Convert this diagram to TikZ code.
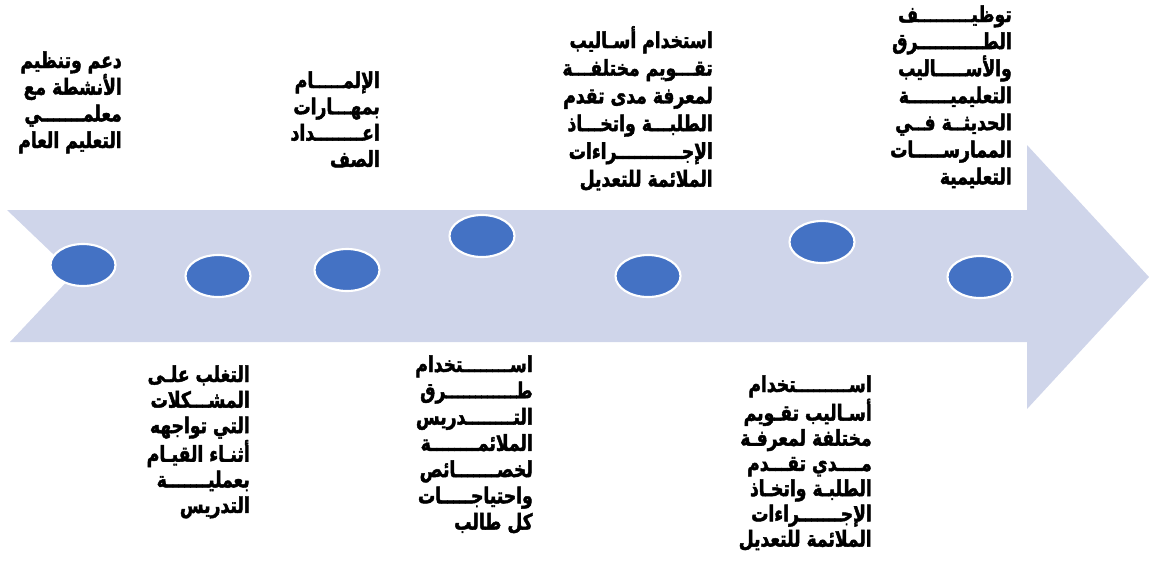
\documentclass[tikz,border=0pt]{standalone}
\usepackage{fontspec}
\usetikzlibrary{shapes.geometric}
\TeXXeTstate=1
\newfontfamily\arabicfont[Script=Arabic,FakeStretch=0.78,FakeBold=2]{DejaVu Sans Bold}
\definecolor{band}{HTML}{CFD5EA}
\definecolor{dot}{HTML}{4472C4}
% right-aligned block of lines; the optional argument is the line pitch
\newcommand\arblock[2][20pt]{\vtop{\arabicfont\fontsize{16.5}{20}\selectfont
  \baselineskip=#1\halign{\hfill##\cr#2\crcr}}}
\tikzset{
  stage/.style={ellipse, fill=dot, draw=white, line width=1.6pt,
    minimum width=65*0.75pt, minimum height=42*0.75pt, inner sep=0pt},
  label/.style={anchor=base east, inner sep=0pt, text=black}
}
\begin{document}
\begin{tikzpicture}[x=0.75pt,y=-0.75pt]
\useasboundingbox (0,0) rectangle (1149,562);
% the notched arrow carrying the timeline
\fill[band] (7,210) -- (1027,210) -- (1027,145) -- (1149,277) -- (1027,409)
  -- (1027,342) -- (10,342) -- (74,274) -- cycle;
% stages
\node[stage] (e1) at (83,265) {};
\node[stage] (e2) at (218,276) {};
\node[stage] (e3) at (347,270) {};
\node[stage] (e4) at (482,236) {};
\node[stage] (e5) at (648,276) {};
\node[stage] (e6) at (822,242) {};
\node[stage] (e7) at (980,277) {};
% labels above the arrow
\node[label] (t1) at (122,68) {\arblock[20pt]{%
  \beginR دعم وتنظيم\endR\cr
  \beginR الأنشطة مع\endR\cr
  \beginR معلمـــــــي\endR\cr
  \beginR التعليم العام\endR}};
\node[label] (t3) at (380,88) {\arblock[19.7pt]{%
  \beginR الإلمـــــام\endR\cr
  \beginR بمهـــارات\endR\cr
  \beginR اعــــــــداد\endR\cr
  \beginR الصف\endR}};
\node[label] (t5) at (713,48) {\arblock[20.8pt]{%
  \beginR استخدام أسـاليب\endR\cr
  \beginR تقـــويم مختلفـــة\endR\cr
  \beginR لمعرفة مدى تقدم\endR\cr
  \beginR الطلبـــة واتخـــاذ\endR\cr
  \beginR الإجـــــــــــراءات\endR\cr
  \beginR الملائمة للتعديل\endR}};
\node[label] (t7) at (1012,22) {\arblock[20.3pt]{%
  \beginR توظيـــــــــف\endR\cr
  \beginR الطـــــــــــرق\endR\cr
  \beginR والأســـــاليب\endR\cr
  \beginR التعليميـــــــة\endR\cr
  \beginR الحديثــة فــي\endR\cr
  \beginR الممارســـــات\endR\cr
  \beginR التعليمية\endR}};
% labels below the arrow
\node[label] (t2) at (250,382) {\arblock[19.2pt]{%
  \beginR التغلب علـى\endR\cr
  \beginR المشـــكلات\endR\cr
  \beginR التي تواجهه\endR\cr
  \beginR أثنـاء القيـام\endR\cr
  \beginR بعمليـــــــة\endR\cr
  \beginR التدريس\endR}};
\node[label] (t4) at (533,372) {\arblock[19.7pt]{%
  \beginR اســــــــتخدام\endR\cr
  \beginR طــــــــــــرق\endR\cr
  \beginR التــــــــدريس\endR\cr
  \beginR الملائمــــــــة\endR\cr
  \beginR لخصـــــــائص\endR\cr
  \beginR واحتياجـــــات\endR\cr
  \beginR كل طالب\endR}};
\node[label] (t6) at (872,392) {\arblock[18.9pt]{%
  \beginR اســـــــــتخدام\endR\cr
  \beginR أسـاليب تقـويم\endR\cr
  \beginR مختلفة لمعرفـة\endR\cr
  \beginR مــــدي تقـــدم\endR\cr
  \beginR الطلبـة واتخـاذ\endR\cr
  \beginR الإجـــــــراءات\endR\cr
  \beginR الملائمة للتعديل\endR}};
\end{tikzpicture}
\end{document}
